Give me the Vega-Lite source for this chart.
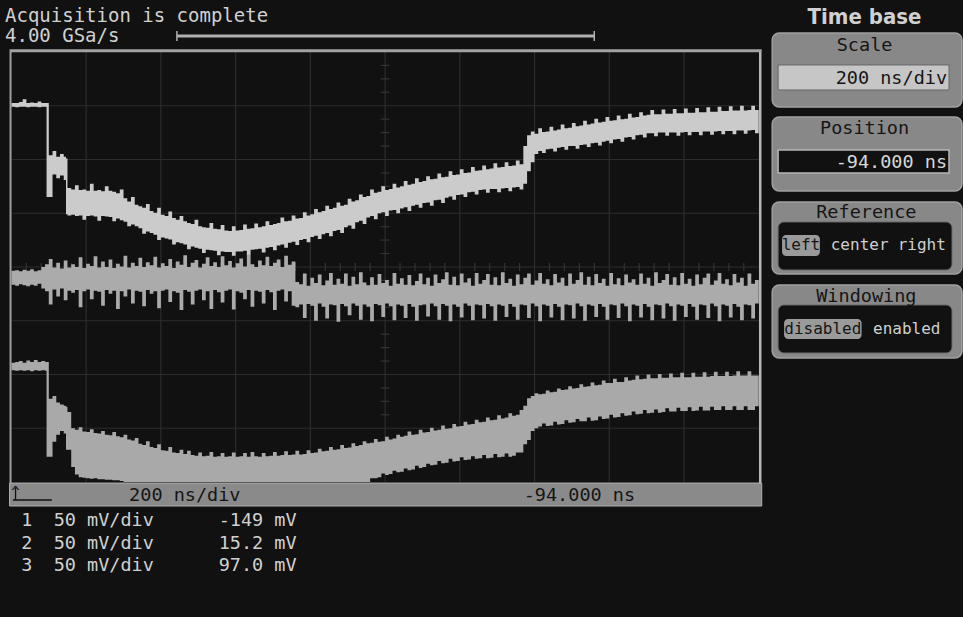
{
"$schema": "https://vega.github.io/schema/vega-lite/v6.json",
"width": 963, "height": 617,
"autosize": {"type": "fit", "contains": "padding"},
"padding": 0,
"background": "#111111",
"config": {"view": {"stroke": null}, "axis": {"disable": true}, "legend": {"disable": true},
  "text": {"font": "DejaVu Sans Mono", "fontSize": 18, "baseline": "middle", "align": "center", "color": "#cccccc"},
  "rule": {"color": "#2c2c2c"}},
"datasets": {
"tr": [
{"t":0.00,"l1":2.98,"h1":3.05,"l2":-0.33,"h2":-0.07,"l3":-1.92,"h3":-1.78},
{"t":0.05,"l1":2.97,"h1":3.05,"l2":-0.35,"h2":-0.06,"l3":-1.93,"h3":-1.77},
{"t":0.10,"l1":2.98,"h1":3.07,"l2":-0.32,"h2":-0.08,"l3":-1.92,"h3":-1.75},
{"t":0.15,"l1":2.98,"h1":3.12,"l2":-0.34,"h2":-0.05,"l3":-1.93,"h3":-1.78},
{"t":0.20,"l1":2.97,"h1":3.05,"l2":-0.36,"h2":-0.07,"l3":-1.92,"h3":-1.74},
{"t":0.25,"l1":2.98,"h1":3.06,"l2":-0.33,"h2":-0.04,"l3":-1.94,"h3":-1.77},
{"t":0.30,"l1":2.98,"h1":3.05,"l2":-0.35,"h2":-0.08,"l3":-1.92,"h3":-1.73},
{"t":0.35,"l1":2.97,"h1":3.08,"l2":-0.31,"h2":-0.06,"l3":-1.93,"h3":-1.77},
{"t":0.40,"l1":2.98,"h1":3.05,"l2":-0.40,"h2":0.00,"l3":-1.92,"h3":-1.75},
{"t":0.45,"l1":2.98,"h1":3.05,"l2":-0.45,"h2":0.05,"l3":-1.93,"h3":-1.77},
{"t":0.47,"l1":1.30,"h1":3.05,"l2":-0.45,"h2":0.05,"l3":-3.53,"h3":-1.77},
{"t":0.50,"l1":1.30,"h1":2.08,"l2":-0.70,"h2":0.15,"l3":-3.53,"h3":-2.45},
{"t":0.55,"l1":1.72,"h1":2.16,"l2":-0.42,"h2":-0.01,"l3":-3.25,"h3":-2.40},
{"t":0.60,"l1":1.65,"h1":2.05,"l2":-0.55,"h2":0.08,"l3":-3.12,"h3":-2.52},
{"t":0.65,"l1":1.70,"h1":2.10,"l2":-0.40,"h2":-0.03,"l3":-3.05,"h3":-2.56},
{"t":0.70,"l1":1.62,"h1":2.05,"l2":-0.62,"h2":0.12,"l3":-3.10,"h3":-2.58},
{"t":0.73,"l1":0.98,"h1":2.02,"l2":-0.62,"h2":0.12,"l3":-3.40,"h3":-2.60},
{"t":0.75,"l1":0.96,"h1":1.47,"l2":-0.44,"h2":-0.01,"l3":-3.40,"h3":-2.70},
{"t":0.80,"l1":0.97,"h1":1.44,"l2":-0.48,"h2":0.05,"l3":-3.72,"h3":-3.00},
{"t":0.85,"l1":0.95,"h1":1.52,"l2":-0.43,"h2":0.00,"l3":-3.86,"h3":-3.03},
{"t":0.90,"l1":0.96,"h1":1.43,"l2":-0.75,"h2":0.18,"l3":-3.91,"h3":-2.98},
{"t":0.95,"l1":0.88,"h1":1.44,"l2":-0.45,"h2":-0.02,"l3":-3.92,"h3":-3.06},
{"t":1.00,"l1":0.95,"h1":1.42,"l2":-0.42,"h2":0.06,"l3":-3.93,"h3":-3.07},
{"t":1.05,"l1":0.96,"h1":1.55,"l2":-0.60,"h2":0.02,"l3":-3.94,"h3":-3.02},
{"t":1.10,"l1":0.94,"h1":1.42,"l2":-0.44,"h2":0.20,"l3":-3.93,"h3":-3.09},
{"t":1.15,"l1":0.86,"h1":1.43,"l2":-0.46,"h2":-0.01,"l3":-3.95,"h3":-3.10},
{"t":1.20,"l1":0.95,"h1":1.41,"l2":-0.72,"h2":0.10,"l3":-3.95,"h3":-3.05},
{"t":1.25,"l1":0.94,"h1":1.50,"l2":-0.43,"h2":0.00,"l3":-3.96,"h3":-3.12},
{"t":1.30,"l1":0.93,"h1":1.42,"l2":-0.50,"h2":0.14,"l3":-3.96,"h3":-3.13},
{"t":1.35,"l1":0.85,"h1":1.40,"l2":-0.44,"h2":-0.02,"l3":-3.97,"h3":-3.07},
{"t":1.40,"l1":0.90,"h1":1.37,"l2":-0.78,"h2":0.06,"l3":-3.97,"h3":-3.15},
{"t":1.45,"l1":0.87,"h1":1.44,"l2":-0.45,"h2":0.01,"l3":-3.98,"h3":-3.17},
{"t":1.50,"l1":0.84,"h1":1.28,"l2":-0.55,"h2":0.21,"l3":-4.00,"h3":-3.12},
{"t":1.55,"l1":0.76,"h1":1.22,"l2":-0.42,"h2":-0.01,"l3":-4.00,"h3":-3.21},
{"t":1.60,"l1":0.79,"h1":1.30,"l2":-0.68,"h2":0.08,"l3":-4.00,"h3":-3.23},
{"t":1.65,"l1":0.76,"h1":1.16,"l2":-0.44,"h2":0.02,"l3":-4.00,"h3":-3.18},
{"t":1.70,"l1":0.72,"h1":1.13,"l2":-0.46,"h2":0.17,"l3":-4.00,"h3":-3.29},
{"t":1.75,"l1":0.62,"h1":1.10,"l2":-0.73,"h2":0.00,"l3":-4.00,"h3":-3.31},
{"t":1.80,"l1":0.66,"h1":1.17,"l2":-0.43,"h2":0.09,"l3":-4.00,"h3":-3.24},
{"t":1.85,"l1":0.63,"h1":1.04,"l2":-0.50,"h2":0.03,"l3":-4.00,"h3":-3.35},
{"t":1.90,"l1":0.60,"h1":1.01,"l2":-0.45,"h2":0.19,"l3":-4.00,"h3":-3.37},
{"t":1.95,"l1":0.50,"h1":1.10,"l2":-0.77,"h2":-0.01,"l3":-4.00,"h3":-3.30},
{"t":2.00,"l1":0.55,"h1":0.97,"l2":-0.44,"h2":0.07,"l3":-4.00,"h3":-3.41},
{"t":2.05,"l1":0.53,"h1":0.95,"l2":-0.42,"h2":0.02,"l3":-4.00,"h3":-3.42},
{"t":2.10,"l1":0.51,"h1":1.03,"l2":-0.65,"h2":0.15,"l3":-4.00,"h3":-3.35},
{"t":2.15,"l1":0.42,"h1":0.91,"l2":-0.45,"h2":-0.02,"l3":-4.00,"h3":-3.45},
{"t":2.20,"l1":0.46,"h1":0.88,"l2":-0.48,"h2":0.10,"l3":-4.00,"h3":-3.46},
{"t":2.25,"l1":0.44,"h1":0.95,"l2":-0.80,"h2":0.04,"l3":-4.00,"h3":-3.40},
{"t":2.30,"l1":0.42,"h1":0.85,"l2":-0.43,"h2":0.22,"l3":-4.00,"h3":-3.48},
{"t":2.35,"l1":0.33,"h1":0.82,"l2":-0.46,"h2":0.00,"l3":-4.00,"h3":-3.42},
{"t":2.40,"l1":0.38,"h1":0.80,"l2":-0.70,"h2":0.08,"l3":-4.00,"h3":-3.50},
{"t":2.45,"l1":0.36,"h1":0.88,"l2":-0.44,"h2":0.13,"l3":-4.00,"h3":-3.51},
{"t":2.50,"l1":0.34,"h1":0.76,"l2":-0.42,"h2":-0.01,"l3":-4.00,"h3":-3.45},
{"t":2.55,"l1":0.26,"h1":0.74,"l2":-0.62,"h2":0.06,"l3":-4.00,"h3":-3.52},
{"t":2.60,"l1":0.32,"h1":0.73,"l2":-0.45,"h2":0.18,"l3":-4.00,"h3":-3.51},
{"t":2.65,"l1":0.31,"h1":0.82,"l2":-0.78,"h2":0.02,"l3":-4.00,"h3":-3.44},
{"t":2.70,"l1":0.30,"h1":0.71,"l2":-0.43,"h2":0.09,"l3":-4.00,"h3":-3.53},
{"t":2.75,"l1":0.22,"h1":0.70,"l2":-0.47,"h2":0.00,"l3":-4.00,"h3":-3.52},
{"t":2.80,"l1":0.29,"h1":0.78,"l2":-0.66,"h2":0.20,"l3":-4.00,"h3":-3.46},
{"t":2.85,"l1":0.28,"h1":0.68,"l2":-0.44,"h2":0.03,"l3":-4.00,"h3":-3.53},
{"t":2.90,"l1":0.28,"h1":0.67,"l2":-0.42,"h2":0.11,"l3":-4.00,"h3":-3.52},
{"t":2.95,"l1":0.21,"h1":0.76,"l2":-0.79,"h2":-0.01,"l3":-4.00,"h3":-3.45},
{"t":3.00,"l1":0.29,"h1":0.68,"l2":-0.45,"h2":0.07,"l3":-4.00,"h3":-3.53},
{"t":3.05,"l1":0.29,"h1":0.69,"l2":-0.48,"h2":0.16,"l3":-4.00,"h3":-3.52},
{"t":3.10,"l1":0.30,"h1":0.79,"l2":-0.60,"h2":0.01,"l3":-4.00,"h3":-3.46},
{"t":3.15,"l1":0.23,"h1":0.71,"l2":-0.43,"h2":0.24,"l3":-4.00,"h3":-3.53},
{"t":3.20,"l1":0.32,"h1":0.72,"l2":-0.74,"h2":0.05,"l3":-4.00,"h3":-3.44},
{"t":3.25,"l1":0.33,"h1":0.81,"l2":-0.44,"h2":0.00,"l3":-4.00,"h3":-3.52},
{"t":3.30,"l1":0.34,"h1":0.74,"l2":-0.46,"h2":0.12,"l3":-4.00,"h3":-3.53},
{"t":3.35,"l1":0.27,"h1":0.76,"l2":-0.68,"h2":0.03,"l3":-4.00,"h3":-3.46},
{"t":3.40,"l1":0.36,"h1":0.85,"l2":-0.43,"h2":0.19,"l3":-4.00,"h3":-3.52},
{"t":3.45,"l1":0.37,"h1":0.78,"l2":-0.47,"h2":0.02,"l3":-4.00,"h3":-3.51},
{"t":3.50,"l1":0.31,"h1":0.80,"l2":-0.80,"h2":0.08,"l3":-4.00,"h3":-3.44},
{"t":3.55,"l1":0.40,"h1":0.82,"l2":-0.44,"h2":0.14,"l3":-4.00,"h3":-3.51},
{"t":3.60,"l1":0.42,"h1":0.92,"l2":-0.42,"h2":0.00,"l3":-4.00,"h3":-3.50},
{"t":3.65,"l1":0.36,"h1":0.85,"l2":-0.64,"h2":0.21,"l3":-4.00,"h3":-3.43},
{"t":3.70,"l1":0.45,"h1":0.86,"l2":-0.45,"h2":0.04,"l3":-4.00,"h3":-3.50},
{"t":3.75,"l1":0.47,"h1":0.96,"l2":-0.72,"h2":0.10,"l3":-4.00,"h3":-3.49},
{"t":3.80,"l1":0.41,"h1":0.90,"l2":-0.75,"h2":-0.28,"l3":-4.00,"h3":-3.42},
{"t":3.85,"l1":0.50,"h1":0.91,"l2":-0.70,"h2":-0.32,"l3":-4.00,"h3":-3.49},
{"t":3.90,"l1":0.52,"h1":1.02,"l2":-0.95,"h2":-0.12,"l3":-4.00,"h3":-3.48},
{"t":3.95,"l1":0.46,"h1":0.96,"l2":-0.69,"h2":-0.35,"l3":-4.00,"h3":-3.41},
{"t":4.00,"l1":0.56,"h1":0.98,"l2":-0.72,"h2":-0.20,"l3":-4.00,"h3":-3.46},
{"t":4.05,"l1":0.58,"h1":1.08,"l2":-1.00,"h2":-0.30,"l3":-4.00,"h3":-3.45},
{"t":4.10,"l1":0.52,"h1":1.02,"l2":-0.68,"h2":-0.14,"l3":-4.00,"h3":-3.38},
{"t":4.15,"l1":0.61,"h1":1.04,"l2":-0.74,"h2":-0.34,"l3":-4.00,"h3":-3.43},
{"t":4.20,"l1":0.63,"h1":1.14,"l2":-0.96,"h2":-0.25,"l3":-4.00,"h3":-3.42},
{"t":4.25,"l1":0.57,"h1":1.08,"l2":-0.70,"h2":-0.11,"l3":-4.00,"h3":-3.35},
{"t":4.30,"l1":0.67,"h1":1.10,"l2":-0.71,"h2":-0.33,"l3":-4.00,"h3":-3.40},
{"t":4.35,"l1":0.69,"h1":1.20,"l2":-1.02,"h2":-0.22,"l3":-4.00,"h3":-3.39},
{"t":4.40,"l1":0.63,"h1":1.14,"l2":-0.69,"h2":-0.31,"l3":-4.00,"h3":-3.31},
{"t":4.45,"l1":0.74,"h1":1.16,"l2":-0.73,"h2":-0.12,"l3":-4.00,"h3":-3.37},
{"t":4.50,"l1":0.77,"h1":1.27,"l2":-0.90,"h2":-0.35,"l3":-4.00,"h3":-3.36},
{"t":4.55,"l1":0.71,"h1":1.22,"l2":-0.68,"h2":-0.18,"l3":-4.00,"h3":-3.28},
{"t":4.60,"l1":0.83,"h1":1.24,"l2":-0.72,"h2":-0.32,"l3":-4.00,"h3":-3.33},
{"t":4.65,"l1":0.86,"h1":1.35,"l2":-0.98,"h2":-0.10,"l3":-4.00,"h3":-3.31},
{"t":4.70,"l1":0.80,"h1":1.30,"l2":-0.70,"h2":-0.29,"l3":-4.00,"h3":-3.24},
{"t":4.75,"l1":0.92,"h1":1.32,"l2":-0.74,"h2":-0.34,"l3":-4.00,"h3":-3.28},
{"t":4.80,"l1":0.95,"h1":1.44,"l2":-1.01,"h2":-0.19,"l3":-3.93,"h3":-3.27},
{"t":4.85,"l1":0.89,"h1":1.38,"l2":-0.69,"h2":-0.33,"l3":-3.93,"h3":-3.20},
{"t":4.90,"l1":1.00,"h1":1.40,"l2":-0.71,"h2":-0.13,"l3":-3.91,"h3":-3.25},
{"t":4.95,"l1":1.02,"h1":1.50,"l2":-0.93,"h2":-0.30,"l3":-3.84,"h3":-3.24},
{"t":5.00,"l1":0.95,"h1":1.43,"l2":-0.68,"h2":-0.24,"l3":-3.87,"h3":-3.16},
{"t":5.05,"l1":1.05,"h1":1.45,"l2":-0.73,"h2":-0.35,"l3":-3.85,"h3":-3.21},
{"t":5.10,"l1":1.06,"h1":1.55,"l2":-0.99,"h2":-0.11,"l3":-3.79,"h3":-3.19},
{"t":5.15,"l1":1.00,"h1":1.48,"l2":-0.70,"h2":-0.31,"l3":-3.82,"h3":-3.12},
{"t":5.20,"l1":1.09,"h1":1.50,"l2":-0.72,"h2":-0.21,"l3":-3.81,"h3":-3.16},
{"t":5.25,"l1":1.11,"h1":1.60,"l2":-0.95,"h2":-0.33,"l3":-3.75,"h3":-3.14},
{"t":5.30,"l1":1.04,"h1":1.53,"l2":-0.69,"h2":-0.15,"l3":-3.78,"h3":-3.06},
{"t":5.35,"l1":1.14,"h1":1.55,"l2":-0.74,"h2":-0.34,"l3":-3.77,"h3":-3.12},
{"t":5.40,"l1":1.16,"h1":1.65,"l2":-1.00,"h2":-0.26,"l3":-3.70,"h3":-3.11},
{"t":5.45,"l1":1.10,"h1":1.58,"l2":-0.71,"h2":-0.12,"l3":-3.74,"h3":-3.03},
{"t":5.50,"l1":1.19,"h1":1.60,"l2":-0.70,"h2":-0.32,"l3":-3.72,"h3":-3.08},
{"t":5.55,"l1":1.20,"h1":1.69,"l2":-0.92,"h2":-0.20,"l3":-3.66,"h3":-3.07},
{"t":5.60,"l1":1.14,"h1":1.63,"l2":-0.68,"h2":-0.35,"l3":-3.69,"h3":-2.99},
{"t":5.65,"l1":1.24,"h1":1.64,"l2":-0.73,"h2":-0.14,"l3":-3.68,"h3":-3.04},
{"t":5.70,"l1":1.25,"h1":1.74,"l2":-0.98,"h2":-0.30,"l3":-3.61,"h3":-3.03},
{"t":5.75,"l1":1.19,"h1":1.67,"l2":-0.69,"h2":-0.23,"l3":-3.65,"h3":-2.95},
{"t":5.80,"l1":1.29,"h1":1.68,"l2":-0.72,"h2":-0.10,"l3":-3.64,"h3":-3.01},
{"t":5.85,"l1":1.31,"h1":1.78,"l2":-1.01,"h2":-0.33,"l3":-3.57,"h3":-3.00},
{"t":5.90,"l1":1.25,"h1":1.71,"l2":-0.70,"h2":-0.18,"l3":-3.62,"h3":-2.92},
{"t":5.95,"l1":1.34,"h1":1.72,"l2":-0.74,"h2":-0.34,"l3":-3.61,"h3":-2.97},
{"t":6.00,"l1":1.35,"h1":1.82,"l2":-0.94,"h2":-0.12,"l3":-3.54,"h3":-2.96},
{"t":6.05,"l1":1.30,"h1":1.75,"l2":-0.68,"h2":-0.29,"l3":-3.59,"h3":-2.88},
{"t":6.10,"l1":1.39,"h1":1.76,"l2":-0.72,"h2":-0.21,"l3":-3.58,"h3":-2.93},
{"t":6.15,"l1":1.40,"h1":1.86,"l2":-0.99,"h2":-0.35,"l3":-3.52,"h3":-2.92},
{"t":6.20,"l1":1.35,"h1":1.79,"l2":-0.70,"h2":-0.11,"l3":-3.57,"h3":-2.84},
{"t":6.25,"l1":1.43,"h1":1.80,"l2":-0.71,"h2":-0.31,"l3":-3.56,"h3":-2.89},
{"t":6.30,"l1":1.44,"h1":1.89,"l2":-0.96,"h2":-0.24,"l3":-3.50,"h3":-2.88},
{"t":6.35,"l1":1.38,"h1":1.82,"l2":-0.69,"h2":-0.13,"l3":-3.56,"h3":-2.80},
{"t":6.40,"l1":1.45,"h1":1.83,"l2":-0.73,"h2":-0.33,"l3":-3.55,"h3":-2.85},
{"t":6.45,"l1":1.45,"h1":1.93,"l2":-1.00,"h2":-0.19,"l3":-3.48,"h3":-2.84},
{"t":6.50,"l1":1.39,"h1":1.85,"l2":-0.70,"h2":-0.34,"l3":-3.54,"h3":-2.76},
{"t":6.55,"l1":1.46,"h1":1.86,"l2":-0.72,"h2":-0.10,"l3":-3.53,"h3":-2.82},
{"t":6.60,"l1":1.47,"h1":1.95,"l2":-0.93,"h2":-0.30,"l3":-3.47,"h3":-2.80},
{"t":6.65,"l1":1.41,"h1":1.88,"l2":-0.69,"h2":-0.22,"l3":-3.53,"h3":-2.72},
{"t":6.70,"l1":1.48,"h1":1.89,"l2":-0.74,"h2":-0.35,"l3":-3.51,"h3":-2.77},
{"t":6.75,"l1":1.49,"h1":1.98,"l2":-0.98,"h2":-0.14,"l3":-3.45,"h3":-2.75},
{"t":6.80,"l1":1.44,"h1":1.91,"l2":-0.70,"h2":-0.32,"l3":-3.45,"h3":-2.66},
{"t":6.85,"l1":1.55,"h1":2.25,"l2":-0.71,"h2":-0.20,"l3":-3.30,"h3":-2.58},
{"t":6.90,"l1":1.78,"h1":2.45,"l2":-0.95,"h2":-0.12,"l3":-3.22,"h3":-2.44},
{"t":6.95,"l1":1.95,"h1":2.52,"l2":-0.68,"h2":-0.33,"l3":-3.05,"h3":-2.40},
{"t":7.00,"l1":2.10,"h1":2.48,"l2":-0.73,"h2":-0.25,"l3":-3.00,"h3":-2.35},
{"t":7.05,"l1":2.16,"h1":2.58,"l2":-1.01,"h2":-0.11,"l3":-2.97,"h3":-2.37},
{"t":7.10,"l1":2.12,"h1":2.51,"l2":-0.70,"h2":-0.31,"l3":-2.91,"h3":-2.36},
{"t":7.15,"l1":2.19,"h1":2.52,"l2":-0.72,"h2":-0.23,"l3":-2.96,"h3":-2.30},
{"t":7.20,"l1":2.20,"h1":2.61,"l2":-0.94,"h2":-0.34,"l3":-2.95,"h3":-2.33},
{"t":7.25,"l1":2.15,"h1":2.54,"l2":-0.69,"h2":-0.13,"l3":-2.88,"h3":-2.32},
{"t":7.30,"l1":2.22,"h1":2.56,"l2":-0.74,"h2":-0.29,"l3":-2.93,"h3":-2.26},
{"t":7.35,"l1":2.23,"h1":2.65,"l2":-0.99,"h2":-0.20,"l3":-2.92,"h3":-2.29},
{"t":7.40,"l1":2.18,"h1":2.58,"l2":-0.70,"h2":-0.35,"l3":-2.85,"h3":-2.28},
{"t":7.45,"l1":2.25,"h1":2.59,"l2":-0.71,"h2":-0.12,"l3":-2.90,"h3":-2.22},
{"t":7.50,"l1":2.25,"h1":2.68,"l2":-0.96,"h2":-0.31,"l3":-2.89,"h3":-2.26},
{"t":7.55,"l1":2.20,"h1":2.62,"l2":-0.68,"h2":-0.24,"l3":-2.83,"h3":-2.25},
{"t":7.60,"l1":2.27,"h1":2.63,"l2":-0.73,"h2":-0.10,"l3":-2.87,"h3":-2.18},
{"t":7.65,"l1":2.28,"h1":2.72,"l2":-1.00,"h2":-0.33,"l3":-2.87,"h3":-2.23},
{"t":7.70,"l1":2.23,"h1":2.65,"l2":-0.70,"h2":-0.18,"l3":-2.80,"h3":-2.22},
{"t":7.75,"l1":2.30,"h1":2.67,"l2":-0.72,"h2":-0.34,"l3":-2.86,"h3":-2.15},
{"t":7.80,"l1":2.31,"h1":2.76,"l2":-0.93,"h2":-0.13,"l3":-2.85,"h3":-2.20},
{"t":7.85,"l1":2.26,"h1":2.69,"l2":-0.69,"h2":-0.30,"l3":-2.78,"h3":-2.19},
{"t":7.90,"l1":2.33,"h1":2.70,"l2":-0.74,"h2":-0.22,"l3":-2.83,"h3":-2.11},
{"t":7.95,"l1":2.35,"h1":2.79,"l2":-0.98,"h2":-0.35,"l3":-2.82,"h3":-2.16},
{"t":8.00,"l1":2.30,"h1":2.72,"l2":-0.70,"h2":-0.11,"l3":-2.75,"h3":-2.16},
{"t":8.05,"l1":2.37,"h1":2.73,"l2":-0.71,"h2":-0.32,"l3":-2.80,"h3":-2.08},
{"t":8.10,"l1":2.38,"h1":2.82,"l2":-0.95,"h2":-0.21,"l3":-2.79,"h3":-2.14},
{"t":8.15,"l1":2.33,"h1":2.75,"l2":-0.68,"h2":-0.34,"l3":-2.72,"h3":-2.14},
{"t":8.20,"l1":2.41,"h1":2.76,"l2":-0.73,"h2":-0.14,"l3":-2.77,"h3":-2.05},
{"t":8.25,"l1":2.42,"h1":2.85,"l2":-1.01,"h2":-0.29,"l3":-2.76,"h3":-2.11},
{"t":8.30,"l1":2.37,"h1":2.78,"l2":-0.70,"h2":-0.23,"l3":-2.69,"h3":-2.10},
{"t":8.35,"l1":2.45,"h1":2.79,"l2":-0.72,"h2":-0.33,"l3":-2.74,"h3":-2.02},
{"t":8.40,"l1":2.46,"h1":2.88,"l2":-0.94,"h2":-0.12,"l3":-2.73,"h3":-2.09},
{"t":8.45,"l1":2.41,"h1":2.82,"l2":-0.69,"h2":-0.31,"l3":-2.66,"h3":-2.08},
{"t":8.50,"l1":2.49,"h1":2.83,"l2":-0.74,"h2":-0.20,"l3":-2.72,"h3":-2.00},
{"t":8.55,"l1":2.49,"h1":2.92,"l2":-0.99,"h2":-0.35,"l3":-2.71,"h3":-2.07},
{"t":8.60,"l1":2.43,"h1":2.84,"l2":-0.70,"h2":-0.10,"l3":-2.65,"h3":-2.07},
{"t":8.65,"l1":2.50,"h1":2.84,"l2":-0.71,"h2":-0.30,"l3":-2.71,"h3":-1.99},
{"t":8.70,"l1":2.50,"h1":2.93,"l2":-0.96,"h2":-0.24,"l3":-2.70,"h3":-2.06},
{"t":8.75,"l1":2.44,"h1":2.85,"l2":-0.68,"h2":-0.13,"l3":-2.63,"h3":-2.06},
{"t":8.80,"l1":2.50,"h1":2.85,"l2":-0.73,"h2":-0.33,"l3":-2.69,"h3":-1.98},
{"t":8.85,"l1":2.50,"h1":2.94,"l2":-1.00,"h2":-0.19,"l3":-2.69,"h3":-2.05},
{"t":8.90,"l1":2.44,"h1":2.86,"l2":-0.70,"h2":-0.34,"l3":-2.62,"h3":-2.05},
{"t":8.95,"l1":2.50,"h1":2.86,"l2":-0.72,"h2":-0.11,"l3":-2.68,"h3":-1.97},
{"t":9.00,"l1":2.51,"h1":2.95,"l2":-0.93,"h2":-0.31,"l3":-2.68,"h3":-2.05},
{"t":9.05,"l1":2.45,"h1":2.87,"l2":-0.69,"h2":-0.22,"l3":-2.61,"h3":-2.05},
{"t":9.10,"l1":2.51,"h1":2.87,"l2":-0.74,"h2":-0.35,"l3":-2.68,"h3":-1.97},
{"t":9.15,"l1":2.51,"h1":2.96,"l2":-0.98,"h2":-0.14,"l3":-2.67,"h3":-2.04},
{"t":9.20,"l1":2.45,"h1":2.88,"l2":-0.70,"h2":-0.32,"l3":-2.60,"h3":-2.04},
{"t":9.25,"l1":2.52,"h1":2.88,"l2":-0.71,"h2":-0.20,"l3":-2.67,"h3":-1.96},
{"t":9.30,"l1":2.52,"h1":2.97,"l2":-0.95,"h2":-0.12,"l3":-2.67,"h3":-2.04},
{"t":9.35,"l1":2.46,"h1":2.89,"l2":-0.68,"h2":-0.33,"l3":-2.60,"h3":-2.03},
{"t":9.40,"l1":2.52,"h1":2.89,"l2":-0.73,"h2":-0.25,"l3":-2.66,"h3":-1.95},
{"t":9.45,"l1":2.53,"h1":2.98,"l2":-1.01,"h2":-0.11,"l3":-2.66,"h3":-2.03},
{"t":9.50,"l1":2.47,"h1":2.90,"l2":-0.70,"h2":-0.31,"l3":-2.59,"h3":-2.03},
{"t":9.55,"l1":2.53,"h1":2.90,"l2":-0.72,"h2":-0.23,"l3":-2.66,"h3":-1.95},
{"t":9.60,"l1":2.53,"h1":2.99,"l2":-0.94,"h2":-0.34,"l3":-2.66,"h3":-2.03},
{"t":9.65,"l1":2.47,"h1":2.91,"l2":-0.69,"h2":-0.13,"l3":-2.59,"h3":-2.02},
{"t":9.70,"l1":2.54,"h1":2.91,"l2":-0.74,"h2":-0.29,"l3":-2.66,"h3":-1.94},
{"t":9.75,"l1":2.54,"h1":3.00,"l2":-0.99,"h2":-0.20,"l3":-2.66,"h3":-2.02},
{"t":9.80,"l1":2.48,"h1":2.91,"l2":-0.70,"h2":-0.35,"l3":-2.59,"h3":-2.02},
{"t":9.85,"l1":2.54,"h1":2.92,"l2":-0.71,"h2":-0.12,"l3":-2.66,"h3":-1.94},
{"t":9.90,"l1":2.55,"h1":3.00,"l2":-0.96,"h2":-0.31,"l3":-2.66,"h3":-2.02},
{"t":9.95,"l1":2.49,"h1":2.92,"l2":-0.68,"h2":-0.24,"l3":-2.59,"h3":-2.02},
{"t":10.00,"l1":2.55,"h1":2.92,"l2":-0.70,"h2":-0.30,"l3":-2.66,"h3":-2.02}
],
"gx": [{"t":1},{"t":2},{"t":3},{"t":4},{"t":5},{"t":6},{"t":7},{"t":8},{"t":9}],
"gy": [{"v":-3},{"v":-2},{"v":-1},{"v":0},{"v":1},{"v":2},{"v":3}],
"tx": [{"t":0.2},{"t":0.4},{"t":0.6},{"t":0.8},{"t":1.2},{"t":1.4},{"t":1.6},{"t":1.8},{"t":2.2},{"t":2.4},{"t":2.6},{"t":2.8},{"t":3.2},{"t":3.4},{"t":3.6},{"t":3.8},{"t":4.2},{"t":4.4},{"t":4.6},{"t":4.8},{"t":5.2},{"t":5.4},{"t":5.6},{"t":5.8},{"t":6.2},{"t":6.4},{"t":6.6},{"t":6.8},{"t":7.2},{"t":7.4},{"t":7.6},{"t":7.8},{"t":8.2},{"t":8.4},{"t":8.6},{"t":8.8},{"t":9.2},{"t":9.4},{"t":9.6},{"t":9.8}],
"ty": [{"v":-3.75},{"v":-3.5},{"v":-3.25},{"v":-2.75},{"v":-2.5},{"v":-2.25},{"v":-1.75},{"v":-1.5},{"v":-1.25},{"v":-0.75},{"v":-0.5},{"v":-0.25},{"v":0.25},{"v":0.5},{"v":0.75},{"v":1.25},{"v":1.5},{"v":1.75},{"v":2.25},{"v":2.5},{"v":2.75},{"v":3.25},{"v":3.5},{"v":3.75}]
},
"layer": [
{"data": {"name": "gx"}, "mark": {"type": "rule", "color": "#2c2c2c", "strokeWidth": 1.2},
 "encoding": {"x": {"field": "t", "type": "quantitative", "scale": {"domain": [-0.153, 12.653], "nice": false, "zero": false}, "axis": null},
   "y": {"datum": -4, "type": "quantitative", "scale": {"domain": [-6.512, 4.967], "nice": false, "zero": false}, "axis": null}, "y2": {"datum": 4}}},
{"data": {"name": "gy"}, "mark": {"type": "rule", "color": "#2c2c2c", "strokeWidth": 1.2},
 "encoding": {"y": {"field": "v", "type": "quantitative", "axis": null}, "x": {"datum": 0, "type": "quantitative", "axis": null}, "x2": {"datum": 10}}},
{"data": {"name": "tx"}, "mark": {"type": "rule", "color": "#333333", "strokeWidth": 1.2},
 "encoding": {"x": {"field": "t", "type": "quantitative", "axis": null}, "y": {"datum": -0.075, "type": "quantitative", "axis": null}, "y2": {"datum": 0.075}}},
{"data": {"name": "ty"}, "mark": {"type": "rule", "color": "#333333", "strokeWidth": 1.2},
 "encoding": {"y": {"field": "v", "type": "quantitative", "axis": null}, "x": {"datum": 4.94, "type": "quantitative", "axis": null}, "x2": {"datum": 5.06}}},
{"data": {"name": "tr"}, "mark": {"type": "area", "interpolate": "step-after", "color": "#a9a9a9"},
 "encoding": {"x": {"field": "t", "type": "quantitative", "axis": null}, "y": {"field": "h3", "type": "quantitative", "axis": null}, "y2": {"field": "l3"}}},
{"data": {"name": "tr"}, "mark": {"type": "area", "interpolate": "step-after", "color": "#ababab"},
 "encoding": {"x": {"field": "t", "type": "quantitative", "axis": null}, "y": {"field": "h2", "type": "quantitative", "axis": null}, "y2": {"field": "l2"}}},
{"data": {"name": "tr"}, "mark": {"type": "area", "interpolate": "step-after", "color": "#cbcbcb"},
 "encoding": {"x": {"field": "t", "type": "quantitative", "axis": null}, "y": {"field": "h1", "type": "quantitative", "axis": null}, "y2": {"field": "l1"}}},
{"data": {"values": [{}]}, "mark": {"type": "rule", "color": "#a0a0a0", "strokeWidth": 2},
 "encoding": {"x": {"datum": -0.012}, "y": {"datum": -4.02}, "y2": {"datum": 4.0}}},
{"data": {"values": [{}]}, "mark": {"type": "rule", "color": "#b8b8b8", "strokeWidth": 2.5},
 "encoding": {"x": {"datum": 10.02}, "y": {"datum": -4.02}, "y2": {"datum": 4.0}}},
{"data": {"values": [{}]}, "mark": {"type": "rect", "color": "#a2a2a2"},
 "encoding": {"x": {"datum": -0.025}, "x2": {"datum": 10.04}, "y": {"datum": 3.995}, "y2": {"datum": 4.05}}},
{"data": {"values": [{}]}, "mark": {"type": "rect", "color": "#8a8a8a", "stroke": "#b0b0b0", "strokeWidth": 1},
 "encoding": {"x": {"datum": -0.025}, "x2": {"datum": 10.04}, "y": {"datum": -4.02}, "y2": {"datum": -4.447}}},
{"data": {"values": [{}]}, "mark": {"type": "rule", "color": "#111111", "strokeWidth": 1.3},
 "encoding": {"x": {"datum": 0.02}, "x2": {"datum": 0.54}, "y": {"datum": -4.335}}},
{"data": {"values": [{}]}, "mark": {"type": "rule", "color": "#111111", "strokeWidth": 1.3},
 "encoding": {"x": {"datum": 0.055}, "y": {"datum": -4.335}, "y2": {"datum": -4.11}}},
{"data": {"values": [{}]}, "mark": {"type": "text", "text": "^", "color": "#111111", "fontSize": 14, "align": "center", "baseline": "top"},
 "encoding": {"x": {"datum": 0.055}, "y": {"datum": -4.07}}},
{"data": {"values": [{}]}, "mark": {"type": "text", "text": "200 ns/div", "color": "#151515", "fontSize": 18.5},
 "encoding": {"x": {"datum": 2.32}, "y": {"datum": -4.242}}},
{"data": {"values": [{}]}, "mark": {"type": "text", "text": "-94.000 ns", "color": "#151515", "fontSize": 18.5},
 "encoding": {"x": {"datum": 7.60}, "y": {"datum": -4.242}}},
{"data": {"values": [{}]}, "mark": {"type": "text", "text": ["Acquisition is complete", "4.00 GSa/s"], "color": "#d0d0d0", "fontSize": 19, "align": "left", "baseline": "alphabetic", "lineHeight": 20},
 "encoding": {"x": {"datum": -0.086}, "y": {"datum": 4.558}}},
{"data": {"values": [{}]}, "mark": {"type": "rule", "color": "#b0b0b0", "strokeWidth": 3},
 "encoding": {"x": {"datum": 2.214}, "x2": {"datum": 7.799}, "y": {"datum": 4.298}}},
{"data": {"values": [{}]}, "mark": {"type": "rule", "color": "#b0b0b0", "strokeWidth": 1.5},
 "encoding": {"x": {"datum": 2.214}, "y": {"datum": 4.205}, "y2": {"datum": 4.391}}},
{"data": {"values": [{}]}, "mark": {"type": "rule", "color": "#b0b0b0", "strokeWidth": 1.5},
 "encoding": {"x": {"datum": 7.799}, "y": {"datum": 4.205}, "y2": {"datum": 4.391}}},
{"data": {"values": [{}]}, "mark": {"type": "text", "text": ["1", "2", "3"], "color": "#d0d0d0", "fontSize": 18.5, "align": "left", "baseline": "alphabetic", "lineHeight": 22.3},
 "encoding": {"x": {"datum": 0.13}, "y": {"datum": -4.828}}},
{"data": {"values": [{}]}, "mark": {"type": "text", "text": ["50 mV/div", "50 mV/div", "50 mV/div"], "color": "#d0d0d0", "fontSize": 18.5, "align": "left", "baseline": "alphabetic", "lineHeight": 22.3},
 "encoding": {"x": {"datum": 0.565}, "y": {"datum": -4.828}}},
{"data": {"values": [{}]}, "mark": {"type": "text", "text": ["-149 mV", "15.2 mV", "97.0 mV"], "color": "#d0d0d0", "fontSize": 18.5, "align": "left", "baseline": "alphabetic", "lineHeight": 22.3},
 "encoding": {"x": {"datum": 2.773}, "y": {"datum": -4.828}}},
{"data": {"values": [{}]}, "mark": {"type": "text", "text": "Time base", "color": "#d0d0d0", "fontSize": 22, "fontWeight": "bold", "font": "Liberation Sans Narrow, DejaVu Sans Condensed, DejaVu Sans"},
 "encoding": {"x": {"datum": 11.416}, "y": {"datum": 4.651}}},
{"data": {"values": [{}]}, "mark": {"type": "rect", "color": "#888888", "stroke": "#a0a0a0", "strokeWidth": 1.5, "cornerRadius": 7},
 "encoding": {"x": {"datum": 10.18}, "x2": {"datum": 12.72}, "y": {"datum": 4.354}, "y2": {"datum": 2.977}}},
{"data": {"values": [{}]}, "mark": {"type": "rect", "color": "#888888", "stroke": "#a0a0a0", "strokeWidth": 1.5, "cornerRadius": 7},
 "encoding": {"x": {"datum": 10.18}, "x2": {"datum": 12.72}, "y": {"datum": 2.791}, "y2": {"datum": 1.414}}},
{"data": {"values": [{}]}, "mark": {"type": "rect", "color": "#888888", "stroke": "#a0a0a0", "strokeWidth": 1.5, "cornerRadius": 7},
 "encoding": {"x": {"datum": 10.18}, "x2": {"datum": 12.72}, "y": {"datum": 1.209}, "y2": {"datum": -0.13}}},
{"data": {"values": [{}]}, "mark": {"type": "rect", "color": "#888888", "stroke": "#a0a0a0", "strokeWidth": 1.5, "cornerRadius": 7},
 "encoding": {"x": {"datum": 10.18}, "x2": {"datum": 12.72}, "y": {"datum": -0.335}, "y2": {"datum": -1.693}}},
{"data": {"values": [{}]}, "mark": {"type": "rect", "color": "#c6c6c6", "stroke": "#666666", "strokeWidth": 1},
 "encoding": {"x": {"datum": 10.259}, "x2": {"datum": 12.546}, "y": {"datum": 3.758}, "y2": {"datum": 3.293}}},
{"data": {"values": [{}]}, "mark": {"type": "rect", "color": "#111111", "stroke": "#b5b5b5", "strokeWidth": 1.5},
 "encoding": {"x": {"datum": 10.259}, "x2": {"datum": 12.546}, "y": {"datum": 2.177}, "y2": {"datum": 1.749}}},
{"data": {"values": [{}]}, "mark": {"type": "rect", "color": "#111111", "stroke": "#6a6a6a", "strokeWidth": 1, "cornerRadius": 6},
 "encoding": {"x": {"datum": 10.259}, "x2": {"datum": 12.586}, "y": {"datum": 0.837}, "y2": {"datum": -0.056}}},
{"data": {"values": [{}]}, "mark": {"type": "rect", "color": "#111111", "stroke": "#6a6a6a", "strokeWidth": 1, "cornerRadius": 6},
 "encoding": {"x": {"datum": 10.259}, "x2": {"datum": 12.586}, "y": {"datum": -0.707}, "y2": {"datum": -1.6}}},
{"data": {"values": [{}]}, "mark": {"type": "rect", "color": "#9a9a9a", "cornerRadius": 4},
 "encoding": {"x": {"datum": 10.312}, "x2": {"datum": 10.818}, "y": {"datum": 0.595}, "y2": {"datum": 0.205}}},
{"data": {"values": [{}]}, "mark": {"type": "rect", "color": "#9a9a9a", "cornerRadius": 4},
 "encoding": {"x": {"datum": 10.339}, "x2": {"datum": 11.376}, "y": {"datum": -0.967}, "y2": {"datum": -1.34}}},
{"data": {"values": [{}]}, "mark": {"type": "text", "text": "Scale", "color": "#151515", "fontSize": 18.5},
 "encoding": {"x": {"datum": 11.416}, "y": {"datum": 4.13}}},
{"data": {"values": [{}]}, "mark": {"type": "text", "text": "200 ns/div", "color": "#151515", "fontSize": 18.5, "align": "right"},
 "encoding": {"x": {"datum": 12.52}, "y": {"datum": 3.516}}},
{"data": {"values": [{}]}, "mark": {"type": "text", "text": "Position", "color": "#151515", "fontSize": 18.5},
 "encoding": {"x": {"datum": 11.416}, "y": {"datum": 2.586}}},
{"data": {"values": [{}]}, "mark": {"type": "text", "text": "-94.000 ns", "color": "#d8d8d8", "fontSize": 18.5, "align": "right"},
 "encoding": {"x": {"datum": 12.52}, "y": {"datum": 1.953}}},
{"data": {"values": [{}]}, "mark": {"type": "text", "text": "Reference", "color": "#151515", "fontSize": 18.5},
 "encoding": {"x": {"datum": 11.44}, "y": {"datum": 1.023}}},
{"data": {"values": [{}]}, "mark": {"type": "text", "text": "left", "color": "#151515", "fontSize": 16},
 "encoding": {"x": {"datum": 10.565}, "y": {"datum": 0.409}}},
{"data": {"values": [{}]}, "mark": {"type": "text", "text": "center", "color": "#cfcfcf", "fontSize": 16},
 "encoding": {"x": {"datum": 11.35}, "y": {"datum": 0.409}}},
{"data": {"values": [{}]}, "mark": {"type": "text", "text": "right", "color": "#cfcfcf", "fontSize": 16},
 "encoding": {"x": {"datum": 12.181}, "y": {"datum": 0.409}}},
{"data": {"values": [{}]}, "mark": {"type": "text", "text": "Windowing", "color": "#151515", "fontSize": 18.5},
 "encoding": {"x": {"datum": 11.44}, "y": {"datum": -0.54}}},
{"data": {"values": [{}]}, "mark": {"type": "text", "text": "disabled", "color": "#151515", "fontSize": 16},
 "encoding": {"x": {"datum": 10.858}, "y": {"datum": -1.153}}},
{"data": {"values": [{}]}, "mark": {"type": "text", "text": "enabled", "color": "#cfcfcf", "fontSize": 16},
 "encoding": {"x": {"datum": 11.981}, "y": {"datum": -1.153}}}
]
}
